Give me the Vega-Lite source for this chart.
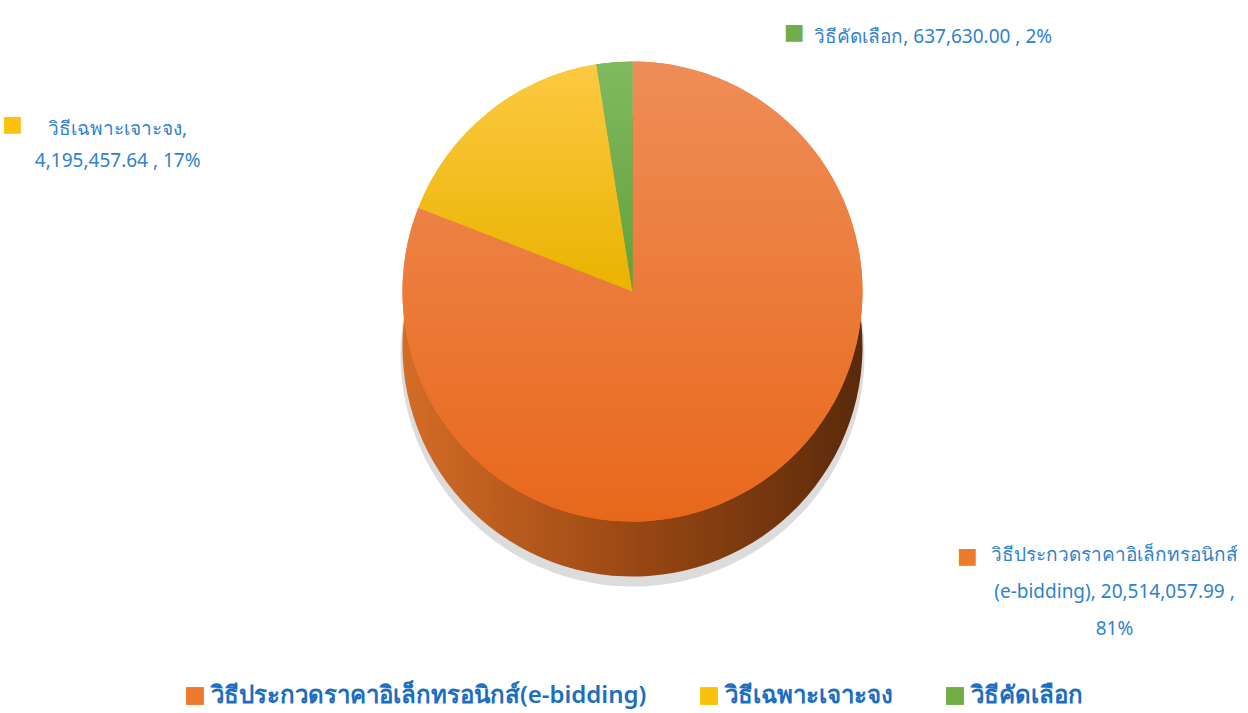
{
  "$schema": "https://vega.github.io/schema/vega-lite/v6.json",
  "width": 1248,
  "height": 713,
  "autosize": {"type": "fit", "contains": "padding"},
  "padding": {"left": 15, "right": 5, "top": 5, "bottom": 5},
  "background": "white",
  "view": {"stroke": null},
  "config": {"legend": {"layout": {"bottom": {"anchor": "middle"}}}},
  "data": {
    "values": [
      {"method": "วิธีประกวดราคาอิเล็กทรอนิกส์(e-bidding)", "amount": 20514057.99, "label": "วิธีประกวดราคาอิเล็กทรอนิกส์\n(e-bidding),  20,514,057.99 ,\n81%", "order": 1},
      {"method": "วิธีเฉพาะเจาะจง", "amount": 4195457.64, "label": "วิธีเฉพาะเจาะจง,\n4,195,457.64 , 17%", "order": 2},
      {"method": "วิธีคัดเลือก", "amount": 637630.00, "label": "วิธีคัดเลือก,  637,630.00 , 2%", "order": 3}
    ]
  },
  "layer": [
    {
      "mark": {"type": "arc", "outerRadius": 232, "yOffset": 20, "stroke": null, "fill": "#9A9A9A", "opacity": 0.35},
      "encoding": {
        "theta": {"field": "amount", "type": "quantitative", "stack": true},
        "order": {"field": "order", "type": "quantitative"}
      }
    },
    {
      "mark": {
        "type": "arc", "outerRadius": 230, "yOffset": 12, "stroke": null,
        "fill": {"gradient": "linear", "x1": 0, "x2": 1, "y1": 0, "y2": 0,
          "stops": [{"offset": 0, "color": "#D46C26"}, {"offset": 0.5, "color": "#9A4814"}, {"offset": 1, "color": "#5A2A0A"}]}
      },
      "encoding": {
        "theta": {"field": "amount", "type": "quantitative", "stack": true},
        "order": {"field": "order", "type": "quantitative"}
      }
    },
    {
      "mark": {"type": "arc", "outerRadius": 230, "yOffset": -43, "stroke": null},
      "encoding": {
        "theta": {"field": "amount", "type": "quantitative", "stack": true},
        "order": {"field": "order", "type": "quantitative"},
        "color": {
          "field": "method", "type": "nominal",
          "sort": ["วิธีประกวดราคาอิเล็กทรอนิกส์(e-bidding)", "วิธีเฉพาะเจาะจง", "วิธีคัดเลือก"],
          "scale": {"domain": ["วิธีประกวดราคาอิเล็กทรอนิกส์(e-bidding)", "วิธีเฉพาะเจาะจง", "วิธีคัดเลือก"], "range": ["#EE7A2E", "#FBC20C", "#72AE48"]},
          "legend": {
            "title": null, "orient": "bottom", "direction": "horizontal",
            "symbolType": "square", "symbolSize": 320, "symbolStrokeWidth": 0,
            "labelFontSize": 24, "labelFont": "Noto Sans", "labelColor": "#1B6EC2", "labelFontWeight": 600,
            "columnPadding": 50, "labelLimit": 600, "offset": 20
          }
        }
      }
    },
    {
      "mark": {"type": "arc", "outerRadius": 230, "yOffset": -43, "stroke": null},
      "encoding": {
        "theta": {"field": "amount", "type": "quantitative", "stack": true},
        "order": {"field": "order", "type": "quantitative"},
        "fill": {
          "condition": [
            {"test": "datum.order == 1", "value": {"gradient": "linear", "x1": 0, "x2": 0, "y1": 0, "y2": 1, "stops": [{"offset": 0, "color": "#EF8D57"}, {"offset": 1, "color": "#E8681B"}]}},
            {"test": "datum.order == 2", "value": {"gradient": "linear", "x1": 0, "x2": 0, "y1": 0, "y2": 1, "stops": [{"offset": 0, "color": "#FDC942"}, {"offset": 1, "color": "#E9B300"}]}}
          ],
          "value": {"gradient": "linear", "x1": 0, "x2": 0, "y1": 0, "y2": 1, "stops": [{"offset": 0, "color": "#80BA5E"}, {"offset": 1, "color": "#62A03C"}]}
        }
      }
    },
    {
      "transform": [
        {"stack": "amount", "groupby": [], "sort": [{"field": "order"}], "as": ["t0", "t1"]},
        {"filter": "datum.order == 3"}
      ],
      "layer": [
        {
          "mark": {"type": "text", "radius": 250, "yOffset": -43, "dx": 340, "dy": -8, "fontSize": 19, "font": "Noto Sans", "color": "#2F82CF"},
          "encoding": {"theta": {"field": "t0", "type": "quantitative"}, "text": {"field": "label"}}
        },
        {
          "mark": {"type": "text", "radius": 250, "yOffset": -43, "dx": 201, "dy": -13, "fontSize": 22, "font": "DejaVu Sans"},
          "encoding": {"theta": {"field": "t0", "type": "quantitative"}, "text": {"value": "■"}, "color": {"field": "method", "type": "nominal"}}
        }
      ]
    },
    {
      "transform": [
        {"stack": "amount", "groupby": [], "sort": [{"field": "order"}], "as": ["t0", "t1"]},
        {"filter": "datum.order == 2"}
      ],
      "layer": [
        {
          "mark": {"type": "text", "radius": 250, "yOffset": -43, "dx": -282, "dy": -71, "fontSize": 19, "font": "Noto Sans", "color": "#2F82CF", "lineBreak": "\n", "lineHeight": 32},
          "encoding": {"theta": {"field": "t0", "type": "quantitative"}, "text": {"field": "label"}}
        },
        {
          "mark": {"type": "text", "radius": 250, "yOffset": -43, "dx": -387, "dy": -76, "fontSize": 22, "font": "DejaVu Sans"},
          "encoding": {"theta": {"field": "t0", "type": "quantitative"}, "text": {"value": "■"}, "color": {"field": "method", "type": "nominal"}}
        }
      ]
    },
    {
      "transform": [
        {"stack": "amount", "groupby": [], "sort": [{"field": "order"}], "as": ["t0", "t1"]},
        {"filter": "datum.order == 1"}
      ],
      "layer": [
        {
          "mark": {"type": "text", "radius": 250, "yOffset": -43, "dx": 482, "dy": 513, "fontSize": 19, "font": "Noto Sans", "color": "#2F82CF", "lineBreak": "\n", "lineHeight": 37},
          "encoding": {"theta": {"field": "t0", "type": "quantitative"}, "text": {"field": "label"}}
        },
        {
          "mark": {"type": "text", "radius": 250, "yOffset": -43, "dx": 335, "dy": 514, "fontSize": 22, "font": "DejaVu Sans"},
          "encoding": {"theta": {"field": "t0", "type": "quantitative"}, "text": {"value": "■"}, "color": {"field": "method", "type": "nominal"}}
        }
      ]
    }
  ]
}
